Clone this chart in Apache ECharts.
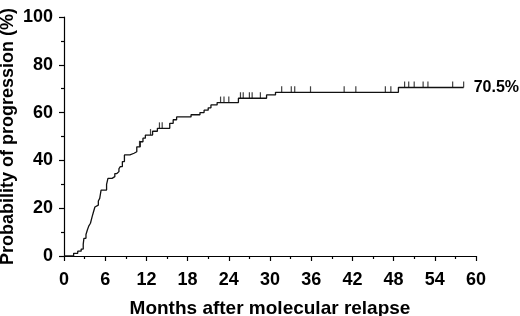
<!DOCTYPE html>
<html>
<head>
<meta charset="utf-8">
<script src="https://cdn.jsdelivr.net/npm/echarts@6/dist/echarts.min.js"></script>
<style>
html, body { margin: 0; padding: 0; background: #fff; }
#chart { width: 520px; height: 316px; }
</style>
</head>
<body>
<div id="chart"></div>
<script>
// step points of the cumulative curve: month, percent
var months = [0, 1.4, 2.0, 2.5, 2.8, 2.9, 3.2, 3.4, 3.6, 3.85, 4.1, 4.3, 4.5, 4.7, 5.0, 5.2, 5.4,
    6.2, 6.4, 7.0, 7.4, 7.7, 8.0, 8.2, 8.5, 8.8, 9.6, 10.2, 10.6, 11.1, 11.5, 11.85,
    12.9, 13.6, 15.4, 15.9, 16.4, 18.5, 19.8, 20.4, 21.0, 21.4, 22.3, 25.4, 29.5, 30.8, 48.7, 58.2];
var percent = [0, 1.1, 2.0, 2.9, 5.0, 7.4, 9.0, 10.9, 12.5, 13.7, 16.5, 18.5, 20.5, 21.3, 23.0, 24.1, 27.6,
    30.0, 32.5, 33.2, 34.5, 35.3, 36.5, 37.4, 39.5, 42.3, 43.0, 43.6, 45.7, 47.8, 49.3, 50.6,
    52.2, 53.4, 55.5, 57.0, 58.2, 59.1, 60.0, 61.0, 62.0, 63.2, 64.2, 66.0, 67.4, 68.5, 70.5, 70.5];
// censored observations (months)
var censored = [11.0, 12.6, 13.9, 14.3, 22.8, 23.3, 24.0, 25.7, 26.1, 27.0, 27.4, 28.6,
    31.7, 33.1, 33.6, 35.9, 40.8, 42.5, 46.8, 47.6, 49.6, 50.2, 51.0, 52.3, 53.0, 56.6, 58.2];
var xTicks = [0, 6, 12, 18, 24, 30, 36, 42, 48, 54, 60];
var finalLabel = '70.5%';

function levelAt(t) {
    var v = 0;
    for (var i = 0; i < months.length; i++) {
        if (months[i] <= t) v = percent[i];
    }
    return v;
}

var curve = months.map(function (m, i) { return [m, percent[i]]; });
var marks = censored.map(function (t) { return [t, levelAt(t)]; });

var font = '"Liberation Sans", Arial, Helvetica, sans-serif';
var myChart = echarts.init(document.getElementById('chart'));
var option = {
    animation: false,
    grid: { left: 64, right: 44, top: 17, bottom: 60, outerBoundsMode: 'none', containLabel: false },
    xAxis: {
        type: 'value',
        min: 0, max: 60, interval: 6,
        name: 'Months after molecular relapse',
        nameLocation: 'middle',
        nameGap: 43,
        nameMoveOverlap: false,
        nameTextStyle: { fontFamily: font, fontWeight: 'bold', fontSize: 19, color: '#000' },
        axisLine: { lineStyle: { color: '#000', width: 1.2 } },
        axisTick: { length: 5, lineStyle: { color: '#000', width: 1.2 } },
        minorTick: { show: true, splitNumber: 2, length: 3, lineStyle: { color: '#000', width: 1.2 } },
        axisLabel: { fontFamily: font, fontWeight: 'bold', fontSize: 18, color: '#000', margin: 15,
            customValues: xTicks },
        splitLine: { show: false }
    },
    yAxis: {
        type: 'value',
        min: 0, max: 100, interval: 20,
        name: 'Probability of progression (%)',
        nameLocation: 'middle',
        nameGap: 47,
        nameMoveOverlap: false,
        nameTextStyle: { fontFamily: font, fontWeight: 'bold', fontSize: 18, color: '#000' },
        axisLine: { show: true, lineStyle: { color: '#000', width: 1.2 } },
        axisTick: { show: true, length: 5, lineStyle: { color: '#000', width: 1.2 } },
        minorTick: { show: true, splitNumber: 2, length: 3, lineStyle: { color: '#000', width: 1.2 } },
        axisLabel: { fontFamily: font, fontWeight: 'bold', fontSize: 18, color: '#000', margin: 11 },
        splitLine: { show: false }
    },
    series: [
        {
            type: 'line',
            step: 'end',
            data: curve,
            showSymbol: false,
            lineStyle: { color: '#111', width: 1.3 },
            endLabel: {
                show: true,
                formatter: finalLabel,
                distance: 10,
                fontFamily: font, fontWeight: 'bold', fontSize: 16, color: '#000'
            }
        },
        {
            type: 'scatter',
            data: marks,
            symbol: 'rect',
            symbolSize: [1.2, 6],
            symbolOffset: [0, -3],
            itemStyle: { color: '#111' }
        }
    ]
};
myChart.setOption(option);
</script>
</body>
</html>
